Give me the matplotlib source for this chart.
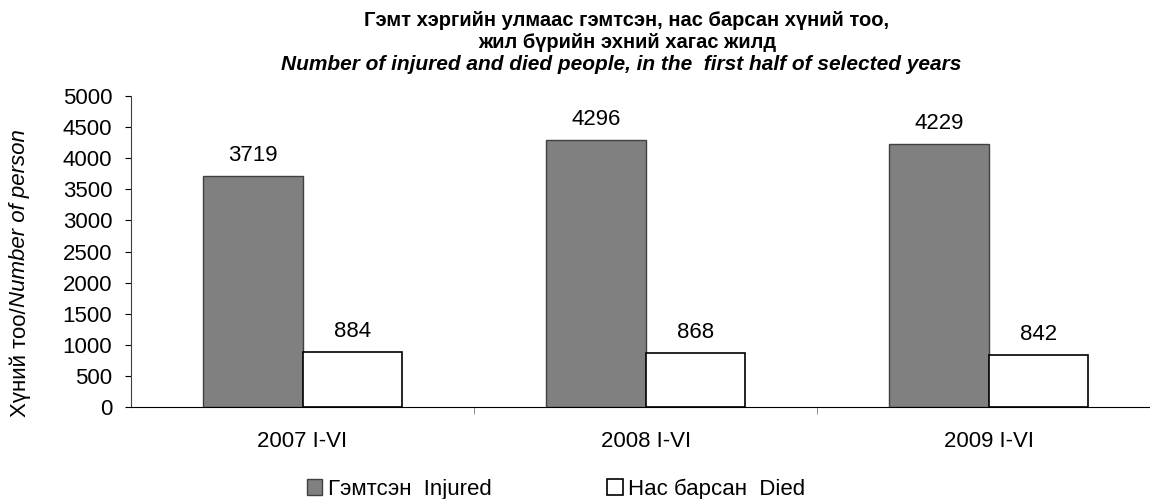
import matplotlib.pyplot as plt
import numpy as np

plt.rcParams['font.family'] = ['Liberation Sans', 'DejaVu Sans']

categories = ["2007 I-VI", "2008 I-VI", "2009 I-VI"]
injured = [3719, 4296, 4229]
died = [884, 868, 842]
series_names = ["Гэмтсэн  Injured", "Нас барсан  Died"]

fig = plt.figure(figsize=(11.5, 4.99), dpi=100)
ax = fig.add_axes([131 / 1150, 1 - 407 / 499, 1 - 131 / 1150, 311 / 499])

x = np.arange(len(categories))
w = 0.29
b1 = ax.bar(x - w / 2, injured, w, color="#808080", edgecolor="#404040", linewidth=1, label=series_names[0])
b2 = ax.bar(x + w / 2, died, w, color="white", edgecolor="black", linewidth=1.2, label=series_names[1])

for bars in (b1, b2):
    for r in bars:
        ax.annotate(str(int(r.get_height())), (r.get_x() + r.get_width() / 2, r.get_height()),
                    xytext=(0, 7), textcoords="offset points", ha="center", va="bottom", fontsize=16)

ax.set_ylim(0, 5000)
ax.set_yticks(range(0, 5001, 500))
ax.set_xlim(-0.5, 2.47)
ax.set_xticks(x)
ax.set_xticklabels(categories)
ax.set_xticks([0.5, 1.5], minor=True)
ax.tick_params(axis="x", which="major", length=0, pad=17, labelsize=16)
ax.tick_params(axis="x", which="minor", length=5, color="#808080")
ax.tick_params(axis="y", direction="out", length=4.5, labelsize=16, pad=9)
for s in ("top", "right"):
    ax.spines[s].set_visible(False)
ax.spines["left"].set_color("#404040")

fig.text(0.545, 1 - 20 / 499, "Гэмт хэргийн улмаас гэмтсэн, нас барсан хүний тоо,", ha="center", va="center",
         fontsize=14.5, fontweight="bold")
fig.text(0.545, 1 - 42 / 499, "жил бүрийн эхний хагас жилд", ha="center", va="center",
         fontsize=14.5, fontweight="bold")
fig.text(0.540, 1 - 64 / 499, "Number of injured and died people, in the  first half of selected years",
         ha="center", va="center", fontsize=15, fontweight="bold", style="italic")

# y label with mixed styles
t1 = fig.text(20 / 1150, 1 - 417 / 499, "Хүний тоо/", rotation=90, ha="center", va="bottom", fontsize=16)
fig.canvas.draw()
bb = t1.get_window_extent()
fig.text(20 / 1150, bb.y1 / fig.bbox.height, "Number of person", rotation=90, ha="center", va="bottom",
         fontsize=16, style="italic")

fig.legend(handles=[b1, b2], loc="center", bbox_to_anchor=(556 / 1150, 1 - 489 / 499), ncol=2,
           frameon=False, fontsize=16, handlelength=0.7, handleheight=0.7, handletextpad=0.25,
           columnspacing=5.2, borderpad=0)

fig.savefig("out.png")
